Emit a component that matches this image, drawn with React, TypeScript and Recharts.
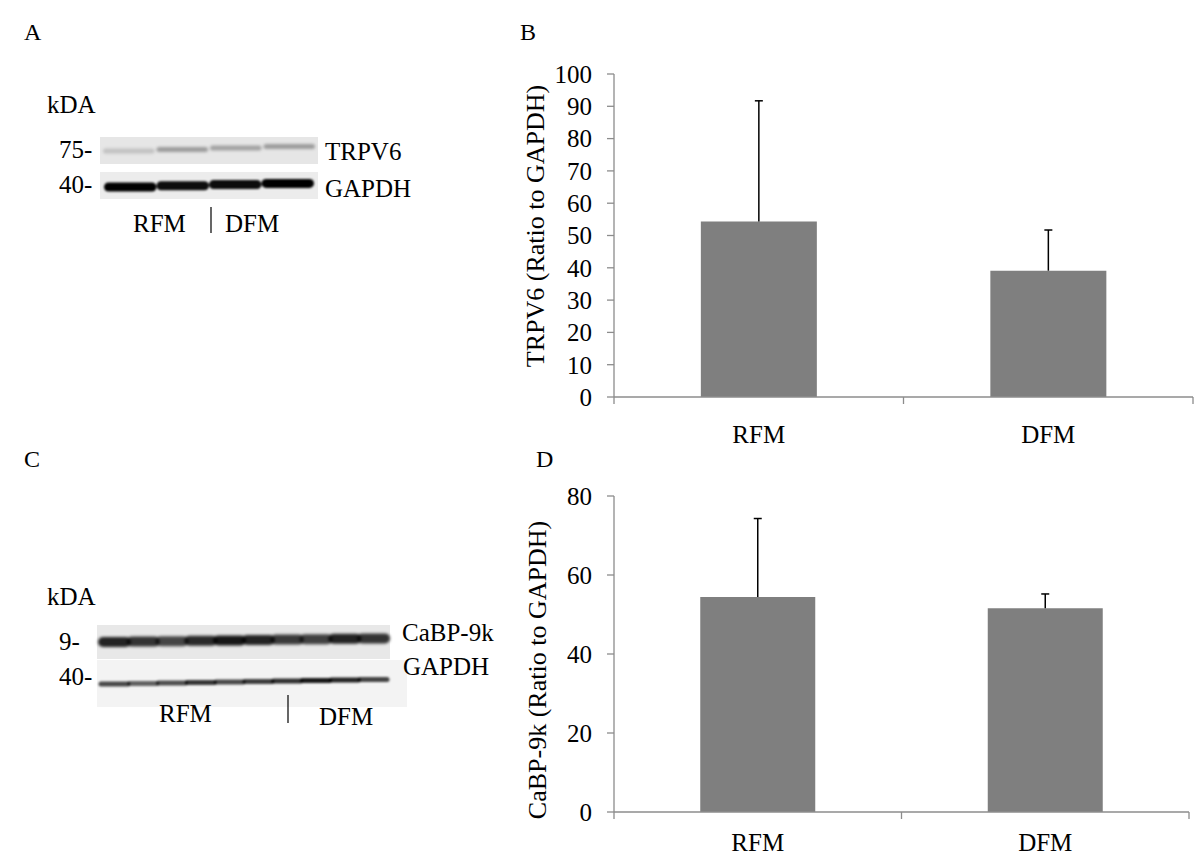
import { Bar, BarChart, XAxis, YAxis } from "recharts"

const groups = ["RFM", "DFM"]

// panel B
const trpv6Ratio = [54.3, 39.1]
const trpv6Sd = [37.4, 12.6]
const trpv6Ticks = [0, 10, 20, 30, 40, 50, 60, 70, 80, 90, 100]

// panel D
const cabpRatio = [54.4, 51.6]
const cabpSd = [19.9, 3.6]
const cabpTicks = [0, 20, 40, 60, 80]

// blot band darkness per lane (0..1)
const trpv6Bands = [0.16, 0.32, 0.3, 0.32]
const gapdhBandsA = [1, 0.95, 0.95, 1]
const cabpBands = [0.85, 0.78, 0.7, 0.82, 0.9, 0.85, 0.75, 0.72, 0.85, 0.78]
const gapdhBandsC = [0.7, 0.6, 0.68, 0.78, 0.7, 0.75, 0.8, 0.9, 0.85, 0.72]

const serif = '"Liberation Serif", "Times New Roman", serif'
const axisGrey = "#8c8c8c"
const barGrey = "#7f7f7f"

const trpv6Data = groups.map((g, i) => ({ group: g, ratio: trpv6Ratio[i], sd: trpv6Sd[i] }))
const cabpData = groups.map((g, i) => ({ group: g, ratio: cabpRatio[i], sd: cabpSd[i] }))

function ErrorWhisker(props: any) {
  const { x, y, width, height } = props
  if (height == null || isNaN(y)) return null
  const cx = x + width / 2
  return (
    <g>
      <line x1={cx} x2={cx} y1={y} y2={y + height} stroke="#000" strokeWidth={1.5} />
      <line x1={cx - 4} x2={cx + 4} y1={y} y2={y} stroke="#000" strokeWidth={1.5} />
    </g>
  )
}

// category label plus the little tick marks at the category edges
function GroupTick(props: any) {
  const { x, y, payload, index, half, gap } = props
  const h = payload.offset || half
  return (
    <g>
      <text x={x} y={y + gap} textAnchor="middle" fontFamily={serif} fontSize={25} fill="#000">
        {payload.value}
      </text>
      <line x1={x + h} x2={x + h} y1={y} y2={y + 7} stroke={axisGrey} strokeWidth={1.3} />
      {index === 0 && <line x1={x - h} x2={x - h} y1={y} y2={y + 7} stroke={axisGrey} strokeWidth={1.3} />}
    </g>
  )
}

function YTitle(props: any) {
  const { viewBox, text, cxOff, cyOff } = props
  const cx = viewBox.x + cxOff
  const cy = viewBox.y + viewBox.height / 2 + cyOff
  return (
    <text
      x={cx}
      y={cy}
      transform={`rotate(-90 ${cx} ${cy})`}
      textAnchor="middle"
      dominantBaseline="central"
      fontFamily={serif}
      fontSize={26}
      fill="#000"
    >
      {text}
    </text>
  )
}

function RatioChart(props: any) {
  const { data, ticks, title, height, marginTop, marginRight, xHeight, labelGap, titleX, titleDy } = props
  const plotW = 700 - 114 - marginRight
  return (
    <BarChart
      width={700}
      height={height}
      data={data}
      margin={{ top: marginTop, right: marginRight, bottom: 0, left: 0 }}
      barCategoryGap="30%"
    >
      <XAxis
        dataKey="group"
        height={xHeight}
        interval={0}
        tickLine={false}
        tickSize={0}
        tickMargin={0}
        axisLine={{ stroke: axisGrey, strokeWidth: 1.3 }}
        tick={<GroupTick half={plotW / data.length / 2} gap={labelGap} />}
      />
      <YAxis
        width={114}
        domain={[0, ticks[ticks.length - 1]]}
        ticks={ticks}
        interval={0}
        tickSize={7}
        tickMargin={15}
        axisLine={{ stroke: axisGrey, strokeWidth: 1.3 }}
        tickLine={{ stroke: axisGrey, strokeWidth: 1.3 }}
        tick={{ fill: "#000", fontSize: 25, fontFamily: serif }}
        label={<YTitle text={title} cxOff={titleX} cyOff={titleDy} />}
      />
      <Bar dataKey="ratio" stackId="s" fill={barGrey} isAnimationActive={false} />
      <Bar dataKey="sd" stackId="s" fill="none" shape={<ErrorWhisker />} isAnimationActive={false} />
    </BarChart>
  )
}

function Lanes(props: any) {
  const { x0, w, yc, h, extra, values, rise, blur, id } = props
  const lw = w / values.length
  const bandW = lw + extra
  return (
    <g filter={`url(#${id})`}>
      {values.map((v: number, i: number) => {
        const cx = x0 + (i + 0.5) * lw
        const cy = yc - i * rise
        return (
          <rect
            key={i}
            x={cx - bandW / 2}
            y={cy - h / 2}
            width={bandW}
            height={h}
            rx={h / 2}
            fill="#000"
            fillOpacity={v}
          />
        )
      })}
      <defs>
        <filter id={id} x="-20%" y="-50%" width="140%" height="200%">
          <feGaussianBlur stdDeviation={blur} />
        </filter>
      </defs>
    </g>
  )
}

function Blots() {
  const t = { fontFamily: serif, fontSize: 25, fill: "#000" }
  return (
    <svg width={1200} height={860} style={{ position: "absolute", left: 0, top: 0 }}>
      <text x={24} y={40} {...t} fontSize={24}>A</text>
      <text x={520} y={40} {...t} fontSize={24}>B</text>
      <text x={24} y={467} {...t} fontSize={24}>C</text>
      <text x={536} y={467} {...t} fontSize={24}>D</text>

      {/* panel A */}
      <text x={47} y={113} {...t}>kDA</text>
      <text x={59} y={158} {...t}>75-</text>
      <text x={59} y={193} {...t}>40-</text>
      <rect x={100} y={137} width={218} height={27} fill="#e6e6e6" />
      <Lanes id="bA1" x0={102} w={214} yc={151} h={5} extra={-2} values={trpv6Bands} rise={1.5} blur={1.6} />
      <rect x={100} y={172} width={218} height={27} fill="#ececec" />
      <Lanes id="bA2" x0={104} w={210} yc={187} h={9} extra={0} values={gapdhBandsA} rise={1.2} blur={0.9} />
      <text x={325} y={160} {...t}>TRPV6</text>
      <text x={325} y={197} {...t}>GAPDH</text>
      <text x={133} y={232} {...t}>RFM</text>
      <line x1={211} x2={211} y1={207} y2={233} stroke="#000" strokeWidth={1.2} />
      <text x={225} y={232} {...t}>DFM</text>

      {/* panel C */}
      <text x={47} y={605} {...t}>kDA</text>
      <text x={59} y={650} {...t}>9-</text>
      <text x={59} y={685} {...t}>40-</text>
      <rect x={97} y={625} width={293} height={34} fill="#e8e8e8" />
      <Lanes id="bC1" x0={100} w={288} yc={642} h={10} extra={4} values={cabpBands} rise={0.4} blur={1.6} />
      <rect x={97} y={660} width={310} height={47} fill="#f3f3f3" />
      <Lanes id="bC2" x0={100} w={288} yc={684} h={5} extra={3} values={gapdhBandsC} rise={0.5} blur={1.1} />
      <text x={402} y={641} {...t}>CaBP-9k</text>
      <text x={403} y={675} {...t}>GAPDH</text>
      <text x={159} y={722} {...t}>RFM</text>
      <line x1={288} x2={288} y1={695} y2={723} stroke="#000" strokeWidth={1.2} />
      <text x={319} y={725} {...t}>DFM</text>
    </svg>
  )
}

export default function App() {
  return (
    <div style={{ position: "absolute", left: 0, top: 0, width: 1200, height: 860, background: "#fff", overflow: "hidden" }}>
      <Blots />
      <div style={{ position: "absolute", left: 500, top: 40 }}>
        <RatioChart
          data={trpv6Data}
          ticks={trpv6Ticks}
          title="TRPV6 (Ratio to GAPDH)"
          height={440}
          marginTop={34}
          marginRight={7}
          xHeight={83}
          labelGap={46}
          titleX={35}
          titleDy={-9.5}
        />
      </div>
      <div style={{ position: "absolute", left: 500, top: 470 }}>
        <RatioChart
          data={cabpData}
          ticks={cabpTicks}
          title="CaBP-9k (Ratio to GAPDH)"
          height={390}
          marginTop={26}
          marginRight={11}
          xHeight={48}
          labelGap={39}
          titleX={37}
          titleDy={16}
        />
      </div>
    </div>
  )
}
